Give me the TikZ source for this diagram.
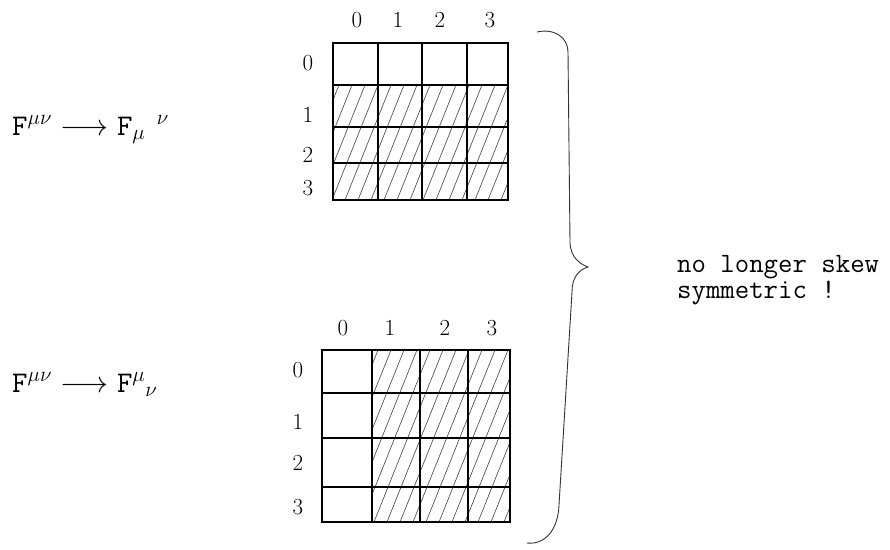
\RequirePackage{fix-cm}
\documentclass[tikz,border=0pt]{standalone}
\usepackage{amsmath}
\tikzset{
  cell/.style={line width=1.1pt, black},
  hatch/.style={line width=0.6pt, black!75},
  idx/.style={font=\fontsize{23}{27}\selectfont, inner sep=0pt},
  rule/.style={font=\fontsize{30}{36}\selectfont, inner sep=0pt, anchor=base west},
  typed/.style={font=\fontsize{28}{21}\selectfont\ttfamily, inner sep=0pt, anchor=base west},
  curly/.style={line width=0.9pt, black!80},
}

\begin{document}
\begin{tikzpicture}[x=1pt, y=-1pt]
    \useasboundingbox (0,0) rectangle (890,549);

    % Index rules on the left
    \node[rule] (ruleA) at (12,135) {$\texttt{F}^{\mu\nu}\longrightarrow\texttt{F}_{\mu}{}^{\;\;\nu}$};
    \node[rule] (ruleB) at (12,392) {$\texttt{F}^{\mu\nu}\longrightarrow\texttt{F}^{\mu}{}_{\nu}$};

    % Upper matrix: rows 1-3 hatched
    \begin{scope}
        \clip (333,85) rectangle (508,200);
        \foreach \s in {280,293,...,510} \draw[hatch] (\s,200) -- ++(46,-115);
    \end{scope}
    \draw[cell] (333,43) rectangle (508,200);
    \foreach \x in {378,422,467} \draw[cell] (\x,43) -- (\x,200);
    \foreach \y in {85,127,163} \draw[cell] (333,\y) -- (508,\y);
    \foreach \x/\n in {357/0,398/1,440/2,490/3} \node[idx] (colA\n) at (\x,20) {\n};
    \foreach \y/\n in {63/0,115/1,155/2,188/3} \node[idx] (rowA\n) at (308,\y) {\n};

    % Lower matrix: columns 1-3 hatched
    \begin{scope}
        \clip (372,350) rectangle (510,522);
        \foreach \s in {296,309,...,512} \draw[hatch] (\s,522) -- ++(69,-172);
    \end{scope}
    \draw[cell] (322,350) rectangle (510,522);
    \foreach \x in {372,420,468} \draw[cell] (\x,350) -- (\x,522);
    \foreach \y in {393,438,487} \draw[cell] (322,\y) -- (510,\y);
    \foreach \x/\n in {343/0,390/1,445/2,492/3} \node[idx] (colB\n) at (\x,328) {\n};
    \foreach \y/\n in {370/0,422/1,463/2,507/3} \node[idx] (rowB\n) at (298,\y) {\n};

    % Brace and remark
    \draw[curly] (537,32) .. controls (555,28) and (568,38) .. (568,52)
        -- (570,243) .. controls (571,258) and (580,264) .. (588,267)
        .. controls (578,270) and (572,278) .. (572,292)
        -- (559,505) .. controls (558,530) and (545,545) .. (527,543);
    \node[typed] (remarkA) at (677,272) {no longer skew};
    \node[typed] (remarkB) at (677,298) {symmetric !};

\end{tikzpicture}
\end{document}
